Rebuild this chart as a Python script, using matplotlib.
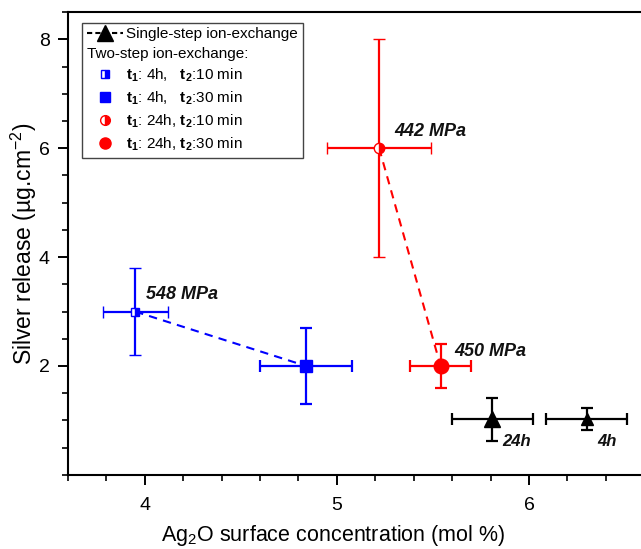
import matplotlib
matplotlib.use("Agg")
import matplotlib.pyplot as plt
from matplotlib.lines import Line2D
from matplotlib.ticker import MultipleLocator, FixedLocator

plt.rcParams['font.family'] = ['Liberation Sans', 'DejaVu Sans']
plt.rcParams['mathtext.fontset'] = 'custom'
plt.rcParams['mathtext.rm'] = 'Liberation Sans'
plt.rcParams['mathtext.it'] = 'Liberation Sans:italic'
plt.rcParams['mathtext.bf'] = 'Liberation Sans:bold'

# ---- data ----
# two-step, t1 = 4h
blue_x = [3.95, 4.84]
blue_y = [3.0, 2.0]
blue_xerr = [0.17, 0.24]
blue_yerr = [0.8, 0.7]
# two-step, t1 = 24h
red_x = [5.22, 5.54]
red_y = [6.0, 2.0]
red_xerr = [0.27, 0.16]
red_yerr = [2.0, 0.4]
# single-step
single_labels = ['24h', '4h']
single_x = [5.81, 6.30]
single_y = [1.02, 1.02]
single_xerr = [0.21, 0.21]
single_yerr = [0.4, 0.2]
# compressive stress annotations
stress_labels = ['548 MPa', '442 MPa', '450 MPa']
y_ticks = [2, 4, 6, 8]

fig = plt.figure(figsize=(6.41, 5.49), dpi=100)
ax = fig.add_axes([0.106, 0.135, 0.914, 0.843])
ax.set_xlim(3.6, 6.65)
ax.set_ylim(0, 8.5)

ebkw = dict(elinewidth=1.6, capsize=4.5, capthick=1.6, linestyle='none')

# dashed connection lines
ax.plot(blue_x, blue_y, color='#0000ff', ls=(0, (4, 3)), lw=1.5, zorder=2)
ax.plot(red_x, red_y, color='#ff0000', ls=(0, (4, 3)), lw=1.5, zorder=2)

# blue points
ax.errorbar(blue_x[0], blue_y[0], xerr=blue_xerr[0], yerr=blue_yerr[0], color='#0000ff',
            marker='s', ms=6, fillstyle='right', markerfacecoloralt='white',
            mec='#0000ff', mew=1, zorder=3, **ebkw)
ax.errorbar(blue_x[1], blue_y[1], xerr=blue_xerr[1], yerr=blue_yerr[1], color='#0000ff',
            marker='s', ms=8.5, zorder=3, **ebkw)
# red points
ax.errorbar(red_x[0], red_y[0], xerr=red_xerr[0], yerr=red_yerr[0], color='#ff0000',
            marker='o', ms=7.5, fillstyle='right', markerfacecoloralt='white',
            mec='#ff0000', mew=1, zorder=3, **ebkw)
ax.errorbar(red_x[1], red_y[1], xerr=red_xerr[1], yerr=red_yerr[1], color='#ff0000',
            marker='o', ms=10.5, zorder=3, **ebkw)
# single-step points
ax.errorbar(single_x[0], single_y[0], xerr=single_xerr[0], yerr=single_yerr[0], color='k',
            marker='^', ms=12, zorder=3, **ebkw)
ax.errorbar(single_x[1], single_y[1], xerr=single_xerr[1], yerr=single_yerr[1], color='k',
            marker='^', ms=8, zorder=3, **ebkw)

# annotations
akw = dict(fontsize=13, fontweight='bold', fontstyle='italic', color='#111111')
ax.annotate(stress_labels[0], (blue_x[0], blue_y[0]), xytext=(8, 9), textcoords='offset points', **akw)
ax.annotate(stress_labels[1], (red_x[0], red_y[0]), xytext=(11, 9), textcoords='offset points', **akw)
ax.annotate(stress_labels[2], (red_x[1], red_y[1]), xytext=(10, 7), textcoords='offset points', **akw)
skw = dict(fontsize=12, fontweight='bold', fontstyle='italic', color='#111111')
ax.annotate(single_labels[0], (single_x[0], single_y[0]), xytext=(7, -19), textcoords='offset points', **skw)
ax.annotate(single_labels[1], (single_x[1], single_y[1]), xytext=(8, -19), textcoords='offset points', **skw)

# axes styling
ax.xaxis.set_major_locator(MultipleLocator(1))
ax.xaxis.set_minor_locator(MultipleLocator(0.2))
ax.yaxis.set_major_locator(FixedLocator(y_ticks))
ax.yaxis.set_minor_locator(MultipleLocator(0.5))
ax.tick_params(which='major', direction='out', length=7, width=1.4, labelsize=14, pad=6)
ax.tick_params(axis='x', which='major', pad=9)
ax.tick_params(which='minor', direction='out', length=4, width=1.2)
for s in ax.spines.values():
    s.set_linewidth(1.5)
ax.set_xlabel('Ag$_2$O surface concentration (mol %)', fontsize=15.5)
ax.xaxis.set_label_coords(0.452, -0.105)
ax.set_ylabel('Silver release (µg.cm$^{-2}$)', fontsize=16.5)
ax.yaxis.set_label_coords(-0.05, 0.5)

# legend
handles = [
    Line2D([], [], color='k', marker='^', ms=11, ls=(0, (2.5, 1.5)), lw=1.5),
    Line2D([], [], ls='none'),
    Line2D([], [], color='#0000ff', marker='s', ms=6, ls='none', fillstyle='right',
           markerfacecoloralt='white', mec='#0000ff', mew=1),
    Line2D([], [], color='#0000ff', marker='s', ms=6.5, ls='none'),
    Line2D([], [], color='#ff0000', marker='o', ms=7, ls='none', fillstyle='right',
           markerfacecoloralt='white', mec='#ff0000', mew=1),
    Line2D([], [], color='#ff0000', marker='o', ms=8, ls='none'),
]
labels = [
    'Single-step ion-exchange',
    'Two-step ion-exchange:',
    r'$\mathbf{t}_\mathbf{1}$: 4h,   $\mathbf{t}_\mathbf{2}$:10 min',
    r'$\mathbf{t}_\mathbf{1}$: 4h,   $\mathbf{t}_\mathbf{2}$:30 min',
    r'$\mathbf{t}_\mathbf{1}$: 24h, $\mathbf{t}_\mathbf{2}$:10 min',
    r'$\mathbf{t}_\mathbf{1}$: 24h, $\mathbf{t}_\mathbf{2}$:30 min',
]
leg = ax.legend(handles, labels, loc='upper left', bbox_to_anchor=(0.024, 0.977),
                borderaxespad=0, fontsize=11, frameon=True, fancybox=False,
                edgecolor='#444444', framealpha=1, handlelength=2.4, handletextpad=0.2,
                labelspacing=0.37, borderpad=0.3)
leg.get_frame().set_linewidth(1.0)
try:
    col = leg._legend_handle_box.get_children()[0]
    item = col.get_children()[1]
    hb, tb = item.get_children()
    item._children = [tb]
except Exception:
    pass

fig.savefig('out.png', dpi=100)
